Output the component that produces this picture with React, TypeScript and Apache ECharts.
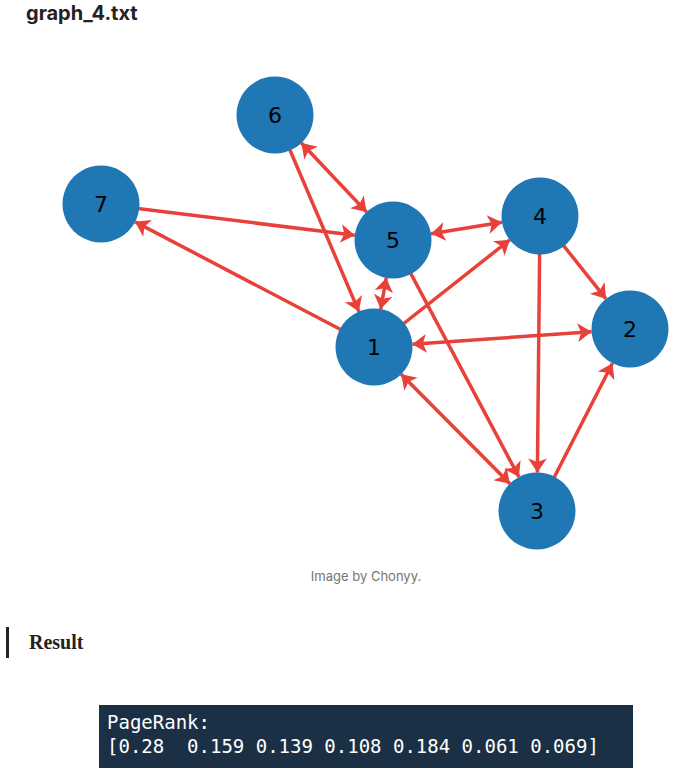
import React, { useEffect, useRef } from 'react';
import * as echarts from 'echarts';

const nodeNames = ['1', '2', '3', '4', '5', '6', '7'];
const nodeX = [374, 630, 537, 540, 393, 275, 101];
const nodeY = [347, 329, 511, 216, 240, 115, 204];
// [source, target, bidirectional]
const edges: [string, string, boolean][] = [
    ['6', '1', false],
    ['6', '5', true],
    ['7', '5', false],
    ['1', '7', false],
    ['5', '4', true],
    ['1', '4', false],
    ['4', '2', false],
    ['4', '3', false],
    ['1', '2', true],
    ['1', '3', true],
    ['5', '3', false],
    ['3', '2', false],
    ['1', '5', true],
];
const rankLine = '[0.28  0.159 0.139 0.108 0.184 0.061 0.069]';

export default function App() {
    const chartRef = useRef<HTMLDivElement>(null);

    useEffect(() => {
        if (!chartRef.current) return;
        const chart = echarts.init(chartRef.current, undefined, { renderer: 'svg' });
        const minX = Math.min(...nodeX), maxX = Math.max(...nodeX);
        const minY = Math.min(...nodeY), maxY = Math.max(...nodeY);
        chart.setOption({
            animation: false,
            backgroundColor: '#fff',
            series: [{
                type: 'graph',
                layout: 'none',
                left: minX, top: minY, width: maxX - minX, height: maxY - minY,
                symbolSize: 77,
                itemStyle: { color: '#1f77b4' },
                label: { show: true, fontSize: 22, color: '#000', fontFamily: 'DejaVu Sans' },
                edgeSymbolSize: [14, 14],
                lineStyle: { color: '#e8413a', width: 3.5, opacity: 1 },
                data: nodeNames.map((n, i) => ({ name: n, x: nodeX[i], y: nodeY[i] })),
                links: edges.map(([s, t, both]) => ({
                    source: s, target: t,
                    symbol: [both ? 'arrow' : 'none', 'arrow'],
                })),
            }],
            graphic: [
                { type: 'text', left: 26, top: 3, style: { text: 'graph_4.txt', font: 'bold 20px Inter, sans-serif', fill: '#222' } },
                { type: 'text', x: 366, y: 576, style: { text: 'Image by Chonyy.', font: '13px Inter, sans-serif', fill: '#757575', align: 'center', verticalAlign: 'middle' } },
                { type: 'rect', shape: { x: 6, y: 627, width: 3, height: 31 }, style: { fill: '#222' } },
                { type: 'text', x: 29, y: 642, style: { text: 'Result', font: 'bold 20px "Liberation Serif", serif', fill: '#222', verticalAlign: 'middle' } },
                { type: 'rect', shape: { x: 99, y: 705, width: 534, height: 63 }, style: { fill: '#1b2f45' } },
                { type: 'text', x: 107, y: 722, style: { text: 'PageRank:', font: '19px "DejaVu Sans Mono", monospace', fill: '#fff', verticalAlign: 'middle' } },
                { type: 'text', x: 107, y: 746, style: { text: rankLine, font: '19px "DejaVu Sans Mono", monospace', fill: '#fff', verticalAlign: 'middle' } },
            ],
        });
        return () => chart.dispose();
    }, []);

    return <div ref={chartRef} style={{ position: 'absolute', left: 0, top: 0, width: 682, height: 779 }}></div>;
}
